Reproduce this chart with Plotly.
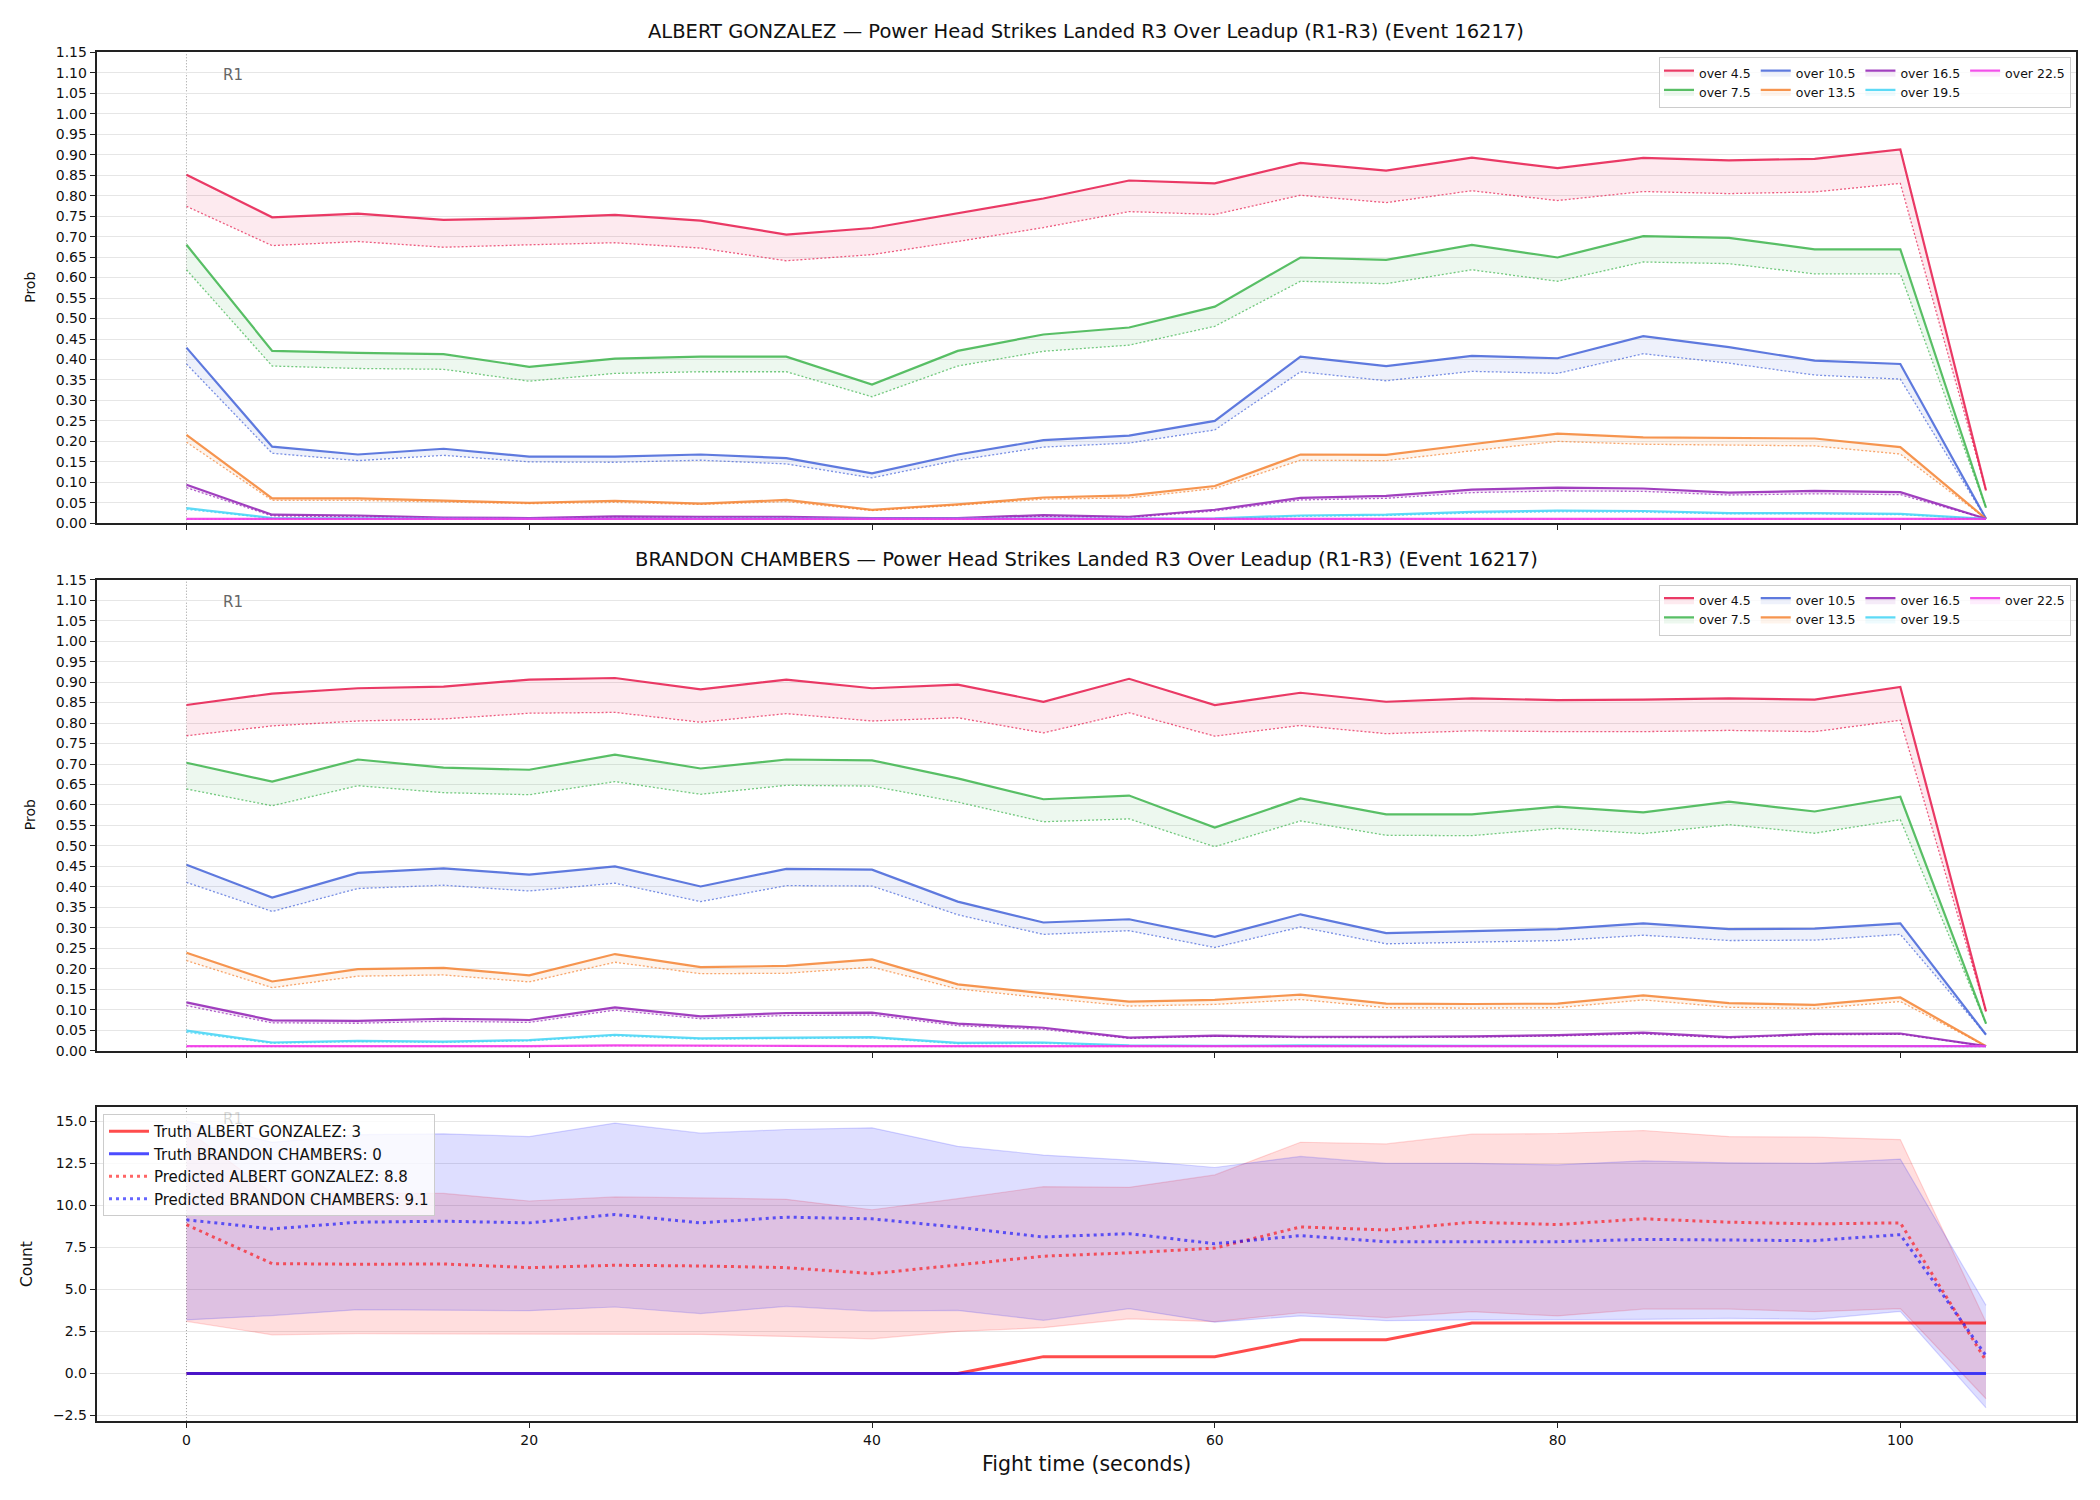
import plotly.graph_objects as go

# ---------------- data ----------------
t = [0, 5, 10, 15, 20, 25, 30, 35, 40, 45, 50, 55, 60, 65, 70, 75, 80, 85, 90, 95, 100, 105]

lines = ["over 4.5", "over 7.5", "over 10.5", "over 13.5", "over 16.5", "over 19.5", "over 22.5"]
line_colors = ["#e6194B", "#3cb44b", "#4363d8", "#f58231", "#911eb4", "#42d4f4", "#f032e6"]
legend_cols = ["c1", "c1", "c2", "c2", "c3", "c3", "c4"]

# ALBERT GONZALEZ: solid (upper) and dotted (lower) curves
a_45_s = [0.851, 0.747, 0.756, 0.741, 0.745, 0.753, 0.739, 0.705, 0.721, 0.757, 0.793, 0.837, 0.830, 0.880, 0.861, 0.893, 0.867, 0.892, 0.886, 0.890, 0.913, 0.080]
a_45_d = [0.774, 0.678, 0.688, 0.674, 0.680, 0.685, 0.672, 0.641, 0.656, 0.688, 0.722, 0.761, 0.754, 0.801, 0.783, 0.812, 0.788, 0.810, 0.805, 0.809, 0.830, 0.080]
a_75_s = [0.680, 0.421, 0.416, 0.413, 0.382, 0.402, 0.407, 0.407, 0.339, 0.421, 0.461, 0.478, 0.529, 0.649, 0.643, 0.680, 0.649, 0.701, 0.697, 0.669, 0.669, 0.038]
a_75_d = [0.619, 0.384, 0.378, 0.376, 0.347, 0.366, 0.370, 0.370, 0.309, 0.384, 0.420, 0.435, 0.481, 0.591, 0.585, 0.619, 0.591, 0.638, 0.634, 0.609, 0.609, 0.038]
a_105_s = [0.429, 0.187, 0.168, 0.182, 0.163, 0.163, 0.168, 0.159, 0.122, 0.168, 0.203, 0.214, 0.250, 0.407, 0.384, 0.409, 0.403, 0.457, 0.430, 0.397, 0.389, 0.011]
a_105_d = [0.389, 0.171, 0.153, 0.166, 0.150, 0.149, 0.154, 0.145, 0.111, 0.154, 0.186, 0.196, 0.228, 0.370, 0.348, 0.371, 0.366, 0.414, 0.391, 0.362, 0.352, 0.011]
a_135_s = [0.216, 0.061, 0.061, 0.056, 0.050, 0.055, 0.048, 0.057, 0.033, 0.046, 0.063, 0.068, 0.091, 0.168, 0.167, 0.193, 0.219, 0.210, 0.208, 0.207, 0.186, 0.011]
a_135_d = [0.198, 0.056, 0.056, 0.052, 0.048, 0.051, 0.046, 0.053, 0.031, 0.044, 0.059, 0.062, 0.085, 0.154, 0.153, 0.177, 0.200, 0.193, 0.191, 0.189, 0.169, 0.011]
a_165_s = [0.094, 0.021, 0.019, 0.014, 0.013, 0.017, 0.016, 0.016, 0.013, 0.013, 0.020, 0.016, 0.033, 0.062, 0.067, 0.082, 0.087, 0.085, 0.075, 0.079, 0.076, 0.011]
a_165_d = [0.087, 0.018, 0.016, 0.013, 0.012, 0.015, 0.014, 0.014, 0.012, 0.012, 0.017, 0.014, 0.030, 0.057, 0.061, 0.075, 0.079, 0.078, 0.069, 0.072, 0.070, 0.011]
a_195_s = [0.037, 0.013, 0.012, 0.011, 0.011, 0.011, 0.011, 0.011, 0.011, 0.011, 0.011, 0.011, 0.012, 0.019, 0.021, 0.028, 0.031, 0.030, 0.025, 0.025, 0.023, 0.011]
a_195_d = [0.034, 0.012, 0.011, 0.011, 0.011, 0.011, 0.011, 0.011, 0.011, 0.011, 0.011, 0.011, 0.011, 0.017, 0.019, 0.025, 0.028, 0.027, 0.023, 0.023, 0.021, 0.011]
a_225_s = [0.011, 0.011, 0.011, 0.011, 0.011, 0.011, 0.011, 0.011, 0.011, 0.011, 0.011, 0.011, 0.011, 0.011, 0.011, 0.011, 0.011, 0.011, 0.011, 0.011, 0.011, 0.011]
a_225_d = [0.010, 0.010, 0.010, 0.010, 0.010, 0.010, 0.010, 0.010, 0.010, 0.010, 0.010, 0.010, 0.010, 0.010, 0.010, 0.010, 0.010, 0.010, 0.010, 0.010, 0.010, 0.010]

# BRANDON CHAMBERS
b_45_s = [0.844, 0.872, 0.885, 0.889, 0.906, 0.910, 0.882, 0.906, 0.885, 0.894, 0.852, 0.908, 0.844, 0.874, 0.852, 0.860, 0.856, 0.857, 0.860, 0.857, 0.888, 0.096]
b_45_d = [0.769, 0.793, 0.805, 0.810, 0.824, 0.826, 0.802, 0.823, 0.805, 0.813, 0.776, 0.825, 0.768, 0.794, 0.774, 0.781, 0.779, 0.779, 0.782, 0.779, 0.807, 0.096]
b_75_s = [0.703, 0.657, 0.711, 0.691, 0.686, 0.723, 0.689, 0.711, 0.709, 0.665, 0.614, 0.623, 0.545, 0.616, 0.577, 0.577, 0.596, 0.582, 0.608, 0.584, 0.620, 0.066]
b_75_d = [0.639, 0.598, 0.647, 0.630, 0.625, 0.657, 0.626, 0.648, 0.646, 0.607, 0.559, 0.566, 0.498, 0.561, 0.526, 0.525, 0.543, 0.530, 0.552, 0.531, 0.564, 0.066]
b_105_s = [0.454, 0.374, 0.434, 0.445, 0.430, 0.450, 0.401, 0.444, 0.442, 0.364, 0.313, 0.321, 0.278, 0.333, 0.287, 0.292, 0.297, 0.311, 0.297, 0.298, 0.311, 0.039]
b_105_d = [0.411, 0.340, 0.396, 0.404, 0.390, 0.409, 0.364, 0.403, 0.402, 0.332, 0.284, 0.293, 0.252, 0.302, 0.261, 0.265, 0.269, 0.282, 0.269, 0.270, 0.284, 0.039]
b_135_s = [0.239, 0.169, 0.199, 0.202, 0.184, 0.236, 0.204, 0.207, 0.223, 0.162, 0.140, 0.120, 0.124, 0.137, 0.115, 0.114, 0.115, 0.135, 0.116, 0.112, 0.130, 0.011]
b_135_d = [0.220, 0.154, 0.182, 0.185, 0.168, 0.216, 0.188, 0.189, 0.204, 0.151, 0.129, 0.109, 0.113, 0.125, 0.105, 0.104, 0.105, 0.124, 0.106, 0.103, 0.120, 0.011]
b_165_s = [0.118, 0.074, 0.073, 0.078, 0.075, 0.106, 0.084, 0.092, 0.093, 0.066, 0.056, 0.032, 0.037, 0.034, 0.034, 0.035, 0.038, 0.044, 0.033, 0.041, 0.042, 0.011]
b_165_d = [0.110, 0.068, 0.067, 0.072, 0.069, 0.099, 0.078, 0.086, 0.087, 0.061, 0.052, 0.030, 0.035, 0.032, 0.032, 0.033, 0.036, 0.041, 0.031, 0.039, 0.040, 0.011]
b_195_s = [0.049, 0.020, 0.024, 0.022, 0.026, 0.039, 0.030, 0.031, 0.033, 0.019, 0.020, 0.013, 0.012, 0.013, 0.012, 0.012, 0.012, 0.012, 0.012, 0.012, 0.012, 0.011]
b_195_d = [0.045, 0.018, 0.022, 0.020, 0.024, 0.036, 0.028, 0.029, 0.031, 0.017, 0.018, 0.012, 0.011, 0.012, 0.011, 0.011, 0.011, 0.011, 0.011, 0.011, 0.011, 0.011]
b_225_s = [0.011, 0.011, 0.011, 0.011, 0.011, 0.013, 0.013, 0.012, 0.011, 0.011, 0.011, 0.011, 0.011, 0.011, 0.011, 0.011, 0.011, 0.011, 0.011, 0.011, 0.011, 0.011]
b_225_d = [0.010, 0.010, 0.010, 0.010, 0.010, 0.012, 0.012, 0.011, 0.010, 0.010, 0.010, 0.010, 0.010, 0.010, 0.010, 0.010, 0.010, 0.010, 0.010, 0.010, 0.010, 0.010]

albert_solid = [a_45_s, a_75_s, a_105_s, a_135_s, a_165_s, a_195_s, a_225_s]
albert_dot = [a_45_d, a_75_d, a_105_d, a_135_d, a_165_d, a_195_d, a_225_d]
brandon_solid = [b_45_s, b_75_s, b_105_s, b_135_s, b_165_s, b_195_s, b_225_s]
brandon_dot = [b_45_d, b_75_d, b_105_d, b_135_d, b_165_d, b_195_d, b_225_d]

# Count panel
truth_albert = [0, 0, 0, 0, 0, 0, 0, 0, 0, 0, 1, 1, 1, 2, 2, 3, 3, 3, 3, 3, 3, 3]
truth_brandon = [0, 0, 0, 0, 0, 0, 0, 0, 0, 0, 0, 0, 0, 0, 0, 0, 0, 0, 0, 0, 0, 0]
pred_albert = [8.84, 6.53, 6.49, 6.51, 6.29, 6.43, 6.39, 6.29, 5.93, 6.47, 6.97, 7.17, 7.45, 8.71, 8.53, 8.99, 8.85, 9.19, 8.99, 8.89, 8.95, 0.76]
pred_albert_lo = [3.10, 2.30, 2.36, 2.36, 2.32, 2.36, 2.32, 2.20, 2.06, 2.50, 2.72, 3.25, 3.08, 3.61, 3.32, 3.67, 3.42, 3.83, 3.83, 3.67, 3.85, -1.50]
pred_albert_hi = [14.50, 10.70, 10.70, 10.70, 10.25, 10.49, 10.43, 10.35, 9.73, 10.39, 11.10, 11.06, 11.80, 13.74, 13.64, 14.22, 14.26, 14.44, 14.08, 14.04, 13.90, 3.05]
pred_brandon = [9.13, 8.59, 8.99, 9.05, 8.95, 9.45, 8.95, 9.29, 9.19, 8.69, 8.11, 8.31, 7.71, 8.19, 7.83, 7.83, 7.83, 7.97, 7.93, 7.89, 8.25, 1.06]
pred_brandon_lo = [3.18, 3.44, 3.79, 3.77, 3.73, 3.95, 3.56, 3.99, 3.71, 3.75, 3.16, 3.85, 3.05, 3.42, 3.14, 3.18, 3.18, 3.22, 3.28, 3.22, 3.69, -2.04]
pred_brandon_hi = [14.98, 13.74, 14.19, 14.24, 14.08, 14.88, 14.28, 14.50, 14.60, 13.50, 12.98, 12.68, 12.24, 12.90, 12.48, 12.48, 12.40, 12.64, 12.52, 12.48, 12.74, 4.05]

truth_labels = ["Truth ALBERT GONZALEZ: 3", "Truth BRANDON CHAMBERS: 0"]
pred_labels = ["Predicted ALBERT GONZALEZ: 8.8", "Predicted BRANDON CHAMBERS: 9.1"]

titles = [
    "ALBERT GONZALEZ — Power Head Strikes Landed R3 Over Leadup (R1-R3) (Event 16217)",
    "BRANDON CHAMBERS — Power Head Strikes Landed R3 Over Leadup (R1-R3) (Event 16217)",
]
round_marks = [0]
round_names = ["R1"]
prob_ticks = [0.00, 0.05, 0.10, 0.15, 0.20, 0.25, 0.30, 0.35, 0.40, 0.45, 0.50, 0.55,
              0.60, 0.65, 0.70, 0.75, 0.80, 0.85, 0.90, 0.95, 1.00, 1.05, 1.10, 1.15]
count_ticks = [-2.5, 0.0, 2.5, 5.0, 7.5, 10.0, 12.5, 15.0]
x_ticks = [0, 20, 40, 60, 80, 100]

# ---------------- styling helpers ----------------
W, H = 2100, 1500
FONT = "DejaVu Sans"


def rgba(hexc, a):
    hexc = hexc.lstrip("#")
    r, g, b = int(hexc[0:2], 16), int(hexc[2:4], 16), int(hexc[4:6], 16)
    return f"rgba({r},{g},{b},{a})"


def ydom(top_px, bot_px):
    return [1 - bot_px / H, 1 - top_px / H]


X_DOM = [96.5 / W, 2076 / W]
DOMS = [ydom(52.3, 523.3), ydom(579.7, 1050.7), ydom(1107.1, 1421.1)]

fig = go.Figure()

# ---------------- probability panels ----------------
for p, (solid_set, dot_set, leg) in enumerate([(albert_solid, albert_dot, "legend"),
                                                (brandon_solid, brandon_dot, "legend2")]):
    xa = "x" if p == 0 else "x2"
    ya = "y" if p == 0 else "y2"
    for name, col, grp, ys, yd in zip(lines, line_colors, legend_cols, solid_set, dot_set):
        fig.add_trace(go.Scatter(
            x=t, y=yd, mode="lines", xaxis=xa, yaxis=ya,
            line=dict(color=rgba(col, 0.7), width=1.3, dash="2px,2px"),
            showlegend=False, hoverinfo="skip"))
        fig.add_trace(go.Scatter(
            x=t, y=ys, mode="lines", xaxis=xa, yaxis=ya, name=name,
            line=dict(color=rgba(col, 0.85), width=2.2),
            fill="tonexty", fillcolor=rgba(col, 0.09),
            legend=leg, legendgroup=f"{leg}_{grp}", showlegend=True))

# ---------------- count panel ----------------
for lo, hi, col in [(pred_albert_lo, pred_albert_hi, "#ff0000"),
                    (pred_brandon_lo, pred_brandon_hi, "#0000ff")]:
    fig.add_trace(go.Scatter(x=t, y=lo, mode="lines", xaxis="x3", yaxis="y3",
                             line=dict(color=rgba(col, 0.15), width=1.2),
                             showlegend=False, hoverinfo="skip"))
    fig.add_trace(go.Scatter(x=t, y=hi, mode="lines", xaxis="x3", yaxis="y3",
                             line=dict(color=rgba(col, 0.15), width=1.2),
                             fill="tonexty", fillcolor=rgba(col, 0.13),
                             showlegend=False, hoverinfo="skip"))

fig.add_trace(go.Scatter(x=t, y=truth_albert, mode="lines", xaxis="x3", yaxis="y3",
                         name=truth_labels[0], legend="legend3",
                         line=dict(color="rgba(255,0,0,0.7)", width=3)))
fig.add_trace(go.Scatter(x=t, y=truth_brandon, mode="lines", xaxis="x3", yaxis="y3",
                         name=truth_labels[1], legend="legend3",
                         line=dict(color="rgba(0,0,255,0.7)", width=3)))
fig.add_trace(go.Scatter(x=t, y=pred_albert, mode="lines", xaxis="x3", yaxis="y3",
                         name=pred_labels[0], legend="legend3",
                         line=dict(color="rgba(255,0,0,0.6)", width=3, dash="3px,4px")))
fig.add_trace(go.Scatter(x=t, y=pred_brandon, mode="lines", xaxis="x3", yaxis="y3",
                         name=pred_labels[1], legend="legend3",
                         line=dict(color="rgba(0,0,255,0.6)", width=3, dash="3px,4px")))

# ---------------- axes ----------------
axis_common = dict(showline=True, mirror=True, linecolor="#222222", linewidth=1.6,
                   ticks="outside", ticklen=5, tickwidth=1.2, tickcolor="#222222",
                   zeroline=False, tickfont=dict(family=FONT, size=14, color="#111111"))

xcommon = dict(axis_common, domain=X_DOM, range=[-5.25, 110.25], tickvals=x_ticks, showgrid=False)

layout = dict(
    width=W, height=H,
    margin=dict(l=0, r=0, t=0, b=0),
    paper_bgcolor="white", plot_bgcolor="white",
    template="none",
    font=dict(family=FONT, color="#111111"),
    xaxis=dict(xcommon, anchor="y", showticklabels=False),
    xaxis2=dict(xcommon, anchor="y2", showticklabels=False),
    xaxis3=dict(xcommon, anchor="y3", showticklabels=True),
    yaxis=dict(axis_common, anchor="x", domain=DOMS[0], range=[0, 1.15], tickvals=prob_ticks,
               tickformat=".2f", showgrid=True, gridcolor="#e6e6e6", gridwidth=1),
    yaxis2=dict(axis_common, anchor="x2", domain=DOMS[1], range=[0, 1.15], tickvals=prob_ticks,
                tickformat=".2f", showgrid=True, gridcolor="#e6e6e6", gridwidth=1),
    yaxis3=dict(axis_common, anchor="x3", domain=DOMS[2], range=[-2.83, 15.83], tickvals=count_ticks,
                tickformat=".1f", showgrid=True, gridcolor="#e6e6e6", gridwidth=1),
)

top_leg = dict(orientation="h", traceorder="grouped", xanchor="right", yanchor="top",
               font=dict(family=FONT, size=12.5, color="#111111"),
               bgcolor="rgba(255,255,255,0.8)", bordercolor="#cccccc", borderwidth=1,
               itemwidth=30, tracegroupgap=0)
layout["legend"] = dict(top_leg, x=2071 / W, y=1 - 57 / H)
layout["legend2"] = dict(top_leg, x=2071 / W, y=1 - 584.5 / H)
layout["legend3"] = dict(orientation="v", xanchor="left", yanchor="top", x=103 / W, y=1 - 1114 / H,
                         font=dict(family=FONT, size=15, color="#111111"),
                         bgcolor="rgba(255,255,255,0.8)", bordercolor="#cccccc", borderwidth=1,
                         itemwidth=40, tracegroupgap=0)

fig.update_layout(**layout)

# ---------------- round markers ----------------
for xa, ya, ytxt, txtcol in [("x", "y", 1.095, "#666666"), ("x2", "y2", 1.095, "#666666"),
                             ("x3", "y3", 15.14, "rgba(102,102,102,0.25)")]:
    for rm, rn in zip(round_marks, round_names):
        fig.add_shape(type="line", xref=xa, yref=f"{ya} domain", x0=rm, x1=rm, y0=0, y1=1,
                      line=dict(color="#999999", width=1, dash="1px,2px"), layer="below")
        fig.add_annotation(xref=xa, yref=ya, x=rm + 2, y=ytxt, text=rn, showarrow=False,
                           xanchor="left", yanchor="middle",
                           font=dict(family=FONT, size=15, color=txtcol))

# ---------------- titles & labels ----------------
xmid = (X_DOM[0] + X_DOM[1]) / 2
fig.add_annotation(xref="paper", yref="paper", x=xmid, y=1 - 31.5 / H, text=titles[0],
                   showarrow=False, xanchor="center", yanchor="middle",
                   font=dict(family=FONT, size=19.5, color="#111111"))
fig.add_annotation(xref="paper", yref="paper", x=xmid, y=1 - 559 / H, text=titles[1],
                   showarrow=False, xanchor="center", yanchor="middle",
                   font=dict(family=FONT, size=19.5, color="#111111"))
fig.add_annotation(xref="paper", yref="paper", x=xmid, y=1 - 1464 / H, text="Fight time (seconds)",
                   showarrow=False, xanchor="center", yanchor="middle",
                   font=dict(family=FONT, size=20.5, color="#111111"))
for ytxt, txt, size, xp in [((52.3 + 523.3) / 2, "Prob", 14, 30), ((579.7 + 1050.7) / 2, "Prob", 14, 30),
                            ((1107.1 + 1421.1) / 2, "Count", 15.5, 27)]:
    fig.add_annotation(xref="paper", yref="paper", x=xp / W, y=1 - ytxt / H, text=txt,
                       showarrow=False, textangle=-90, xanchor="center", yanchor="middle",
                       font=dict(family=FONT, size=size, color="#111111"))

fig.write_html("out.html")
